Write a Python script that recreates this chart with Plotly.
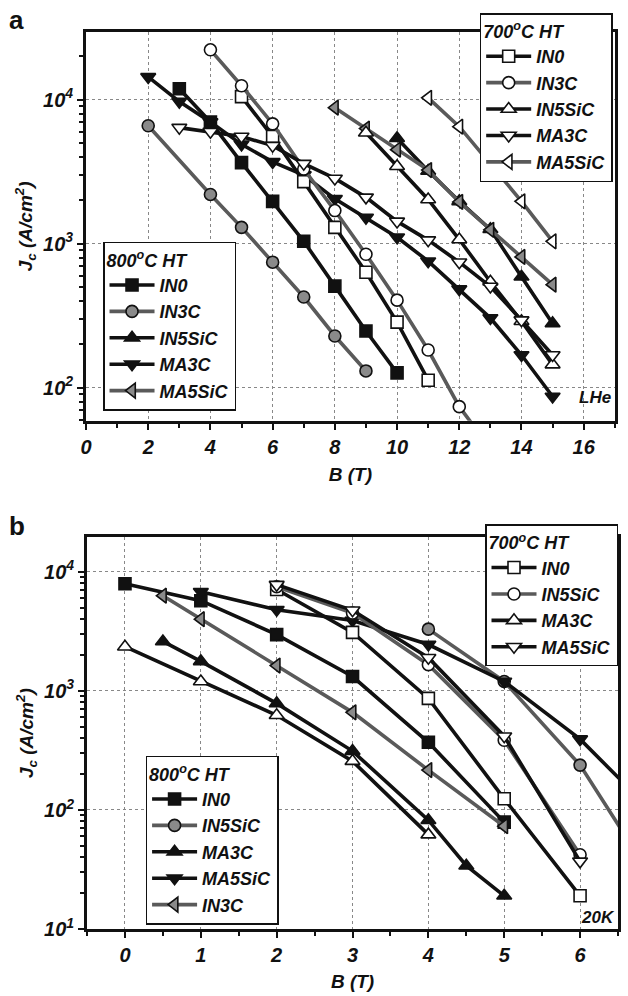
import plotly.graph_objects as go

# ---------------- Panel a (LHe) ----------------
# 700C HT (open symbols)
a7_IN0_x = [5, 6, 7, 8, 9, 10, 11]
a7_IN0_y = [10500, 5550, 2700, 1300, 635, 286, 113]
a7_IN3C_x = [4, 5, 6, 7, 8, 9, 10, 11, 12, 13]
a7_IN3C_y = [22200, 12500, 6800, 3300, 1700, 845, 406, 183, 74, 38]
a7_IN5SiC_x = [9, 10, 11, 12, 13, 14, 15]
a7_IN5SiC_y = [5900, 3450, 2030, 1070, 545, 290, 145]
a7_MA3C_x = [3, 4, 5, 6, 7, 8, 9, 10, 11, 12, 13, 14, 15]
a7_MA3C_y = [6400, 6000, 5550, 4800, 3600, 2840, 2100, 1430, 1060, 745, 505, 295, 169]
a7_MA5SiC_x = [11, 12, 14, 15]
a7_MA5SiC_y = [10300, 6500, 1970, 1040]
# 800C HT (filled symbols)
a8_IN0_x = [3, 4, 5, 6, 7, 8, 9, 10]
a8_IN0_y = [11900, 7000, 3660, 1970, 1040, 508, 248, 127]
a8_IN3C_x = [2, 4, 5, 6, 7, 8, 9]
a8_IN3C_y = [6600, 2200, 1300, 745, 427, 229, 131]
a8_IN5SiC_x = [10, 11, 12, 13, 14, 15]
a8_IN5SiC_y = [5400, 3200, 1970, 1260, 590, 280]
a8_MA3C_x = [2, 3, 4, 5, 6, 7, 8, 9, 10, 11, 12, 13, 14, 15]
a8_MA3C_y = [14400, 9700, 7000, 4900, 3700, 3000, 2050, 1520, 1110, 757, 484, 305, 169, 87]
a8_MA5SiC_x = [8, 9, 10, 11, 12, 13, 14, 15]
a8_MA5SiC_y = [8800, 6300, 4500, 3250, 1950, 1250, 810, 520]

# ---------------- Panel b (20 K) ----------------
b7_IN0_x = [2, 3, 4, 5, 6]
b7_IN0_y = [7100, 3100, 865, 124, 19]
b7_IN5SiC_x = [2, 3, 4, 5, 6]
b7_IN5SiC_y = [7500, 4500, 1660, 385, 42]
b7_MA3C_x = [0, 1, 2, 3, 4]
b7_MA3C_y = [2350, 1200, 624, 257, 62]
b7_MA5SiC_x = [2, 3, 4, 5, 6]
b7_MA5SiC_y = [7800, 4750, 1900, 416, 37]
b8_IN0_x = [0, 1, 2, 3, 4, 5]
b8_IN0_y = [7930, 5720, 2970, 1320, 370, 79]
b8_IN5SiC_x = [4, 5, 6, 7]
b8_IN5SiC_y = [3300, 1200, 238, 24]
b8_MA3C_x = [0.5, 1, 2, 3, 4, 4.5, 5]
b8_MA3C_y = [2600, 1770, 785, 312, 82, 34, 19]
b8_MA5SiC_x = [1, 2, 3, 4, 5, 6, 7]
b8_MA5SiC_y = [6800, 4800, 3900, 2450, 1200, 393, 90]
b8_IN3C_x = [0.5, 1, 2, 3, 4, 5]
b8_IN3C_y = [6300, 4000, 1630, 660, 216, 73]

# tick labels
a_xticks = [0, 2, 4, 6, 8, 10, 12, 14, 16]
a_yticks = [100, 1000, 10000]
a_yticktext = ["10<sup>2</sup>", "10<sup>3</sup>", "10<sup>4</sup>"]
b_xticks = [0, 1, 2, 3, 4, 5, 6]
b_yticks = [10, 100, 1000, 10000]
b_yticktext = ["10<sup>1</sup>", "10<sup>2</sup>", "10<sup>3</sup>", "10<sup>4</sup>"]

FONT = "Liberation Sans, Arial, sans-serif"
BLACK = "#111111"
GRAY = "#5a5a5a"
FILLGRAY = "#8a8a8a"

fig = go.Figure()


def add(x, y, name, symbol, fill, linecolor, legend, xa, ya, msize=12):
    fig.add_trace(go.Scatter(
        x=x, y=y, name=name, mode="lines+markers",
        line=dict(color=linecolor, width=3.6),
        marker=dict(symbol=symbol, size=msize, color=fill,
                    line=dict(color=BLACK, width=1.6)),
        legend=legend, xaxis=xa, yaxis=ya, showlegend=True,
    ))


W = "white"
# panel a: 800 first so open symbols sit on top
add(a8_IN0_x, a8_IN0_y, "IN0", "square", BLACK, BLACK, "legend2", "x", "y")
add(a8_IN3C_x, a8_IN3C_y, "IN3C", "circle", FILLGRAY, GRAY, "legend2", "x", "y")
add(a8_IN5SiC_x, a8_IN5SiC_y, "IN5SiC", "triangle-up", BLACK, BLACK, "legend2", "x", "y", 13)
add(a8_MA3C_x, a8_MA3C_y, "MA3C", "triangle-down", BLACK, BLACK, "legend2", "x", "y", 13)
add(a8_MA5SiC_x, a8_MA5SiC_y, "MA5SiC", "triangle-left", FILLGRAY, GRAY, "legend2", "x", "y", 13)
add(a7_IN0_x, a7_IN0_y, "IN0", "square", W, BLACK, "legend", "x", "y")
add(a7_IN3C_x, a7_IN3C_y, "IN3C", "circle", W, GRAY, "legend", "x", "y")
add(a7_IN5SiC_x, a7_IN5SiC_y, "IN5SiC", "triangle-up", W, BLACK, "legend", "x", "y", 13)
add(a7_MA3C_x, a7_MA3C_y, "MA3C", "triangle-down", W, BLACK, "legend", "x", "y", 13)
add(a7_MA5SiC_x, a7_MA5SiC_y, "MA5SiC", "triangle-left", W, GRAY, "legend", "x", "y", 13)

# panel b
add(b8_IN0_x, b8_IN0_y, "IN0", "square", BLACK, BLACK, "legend4", "x2", "y2")
add(b8_IN5SiC_x, b8_IN5SiC_y, "IN5SiC", "circle", FILLGRAY, GRAY, "legend4", "x2", "y2")
add(b8_MA3C_x, b8_MA3C_y, "MA3C", "triangle-up", BLACK, BLACK, "legend4", "x2", "y2", 13)
add(b8_MA5SiC_x, b8_MA5SiC_y, "MA5SiC", "triangle-down", BLACK, BLACK, "legend4", "x2", "y2", 13)
add(b8_IN3C_x, b8_IN3C_y, "IN3C", "triangle-left", FILLGRAY, GRAY, "legend4", "x2", "y2", 13)
add(b7_IN0_x, b7_IN0_y, "IN0", "square", W, BLACK, "legend3", "x2", "y2")
add(b7_IN5SiC_x, b7_IN5SiC_y, "IN5SiC", "circle", W, GRAY, "legend3", "x2", "y2")
add(b7_MA3C_x, b7_MA3C_y, "MA3C", "triangle-up", W, BLACK, "legend3", "x2", "y2", 13)
add(b7_MA5SiC_x, b7_MA5SiC_y, "MA5SiC", "triangle-down", W, BLACK, "legend3", "x2", "y2", 13)

tickfont = dict(family=FONT, size=20, color=BLACK, weight="bold", style="italic")
titlefont = dict(family=FONT, size=19, color=BLACK, weight="bold", style="italic")
common_axis = dict(
    showline=True, linewidth=2.8, linecolor=BLACK, mirror=True,
    ticks="outside", ticklen=6, tickwidth=2, tickcolor=BLACK,
    showgrid=True, gridcolor="#888888", gridwidth=1, griddash="dot",
    zeroline=False, tickfont=tickfont,
)


def minor_log(lo, hi):
    vals = []
    d = lo
    while d < hi:
        for m in range(2, 10):
            vals.append(m * d)
        d *= 10
    return vals


fig.update_layout(
    width=628, height=996,
    margin=dict(l=86, r=7, t=32, b=64),
    paper_bgcolor="white", plot_bgcolor="white",
    font=dict(family=FONT, color=BLACK),
    xaxis=dict(domain=[0, 0.994], range=[0, 17], tickmode="array", tickvals=a_xticks,
               minor=dict(dtick=1, tick0=0, ticks="outside", ticklen=4, tickwidth=1.5,
                          tickcolor=BLACK, showgrid=False),
               title=dict(text="B (T)", font=titlefont, standoff=12),
               anchor="y", **common_axis),
    yaxis=dict(domain=[0.5667, 1], type="log", range=[1.772, 4.47],
               tickmode="array", tickvals=a_yticks, ticktext=a_yticktext,
               minor=dict(tickmode="array", tickvals=minor_log(10, 100000), ticks="outside",
                          ticklen=4, tickwidth=1.5, tickcolor=BLACK, showgrid=False),
               title=dict(text="J<sub>c</sub> (A/cm<sup>2</sup>)", font=titlefont, standoff=6),
               anchor="x", **common_axis),
    xaxis2=dict(domain=[0.002, 1], range=[-0.5, 6.5], tickmode="array", tickvals=b_xticks,
                minor=dict(dtick=0.5, tick0=0, ticks="outside", ticklen=4, tickwidth=1.5,
                           tickcolor=BLACK, showgrid=False),
                title=dict(text="B (T)", font=titlefont, standoff=10),
                anchor="y2", **common_axis),
    yaxis2=dict(domain=[0, 0.4367], type="log", range=[1.0, 4.29],
                tickmode="array", tickvals=b_yticks, ticktext=b_yticktext,
                minor=dict(tickmode="array", tickvals=minor_log(10, 100000), ticks="outside",
                           ticklen=4, tickwidth=1.5, tickcolor=BLACK, showgrid=False),
                title=dict(text="J<sub>c</sub> (A/cm<sup>2</sup>)", font=titlefont, standoff=6),
                anchor="x2", **common_axis),
)

legfont = dict(family=FONT, size=18, color=BLACK, weight="bold", style="italic")
legbase = dict(bgcolor="white", bordercolor=BLACK, borderwidth=1.5, font=legfont,
               xanchor="left", yanchor="top", itemwidth=45, tracegroupgap=0,
               itemclick=False)
fig.update_layout(
    legend=dict(x=0.74, y=1.021, title=dict(text="700<sup>o</sup>C HT", font=legfont), **legbase),
    legend2=dict(x=0.032, y=0.766, title=dict(text="800<sup>o</sup>C HT", font=legfont), **legbase),
    legend3=dict(x=0.75, y=0.451, title=dict(text="700<sup>o</sup>C HT", font=legfont), **legbase),
    legend4=dict(x=0.112, y=0.193, title=dict(text="800<sup>o</sup>C HT", font=legfont), **legbase),
)

ann_font = dict(family=FONT, size=26, color=BLACK, weight="bold")
fig.add_annotation(text="a", xref="paper", yref="paper", x=-0.148, y=1.032,
                   xanchor="left", yanchor="top", showarrow=False, font=ann_font)
fig.add_annotation(text="b", xref="paper", yref="paper", x=-0.148, y=0.468,
                   xanchor="left", yanchor="top", showarrow=False, font=ann_font)
small = dict(family=FONT, size=17, color=BLACK, weight="bold", style="italic")
fig.add_annotation(text="LHe", xref="x", yref="y", x=16.95, y=1.93, xanchor="right",
                   yanchor="middle", showarrow=False, font=small)
fig.add_annotation(text="20K", xref="x2", yref="y2", x=6.49, y=1.1, xanchor="right",
                   yanchor="middle", showarrow=False, font=small)

fig.write_html("out.html")
